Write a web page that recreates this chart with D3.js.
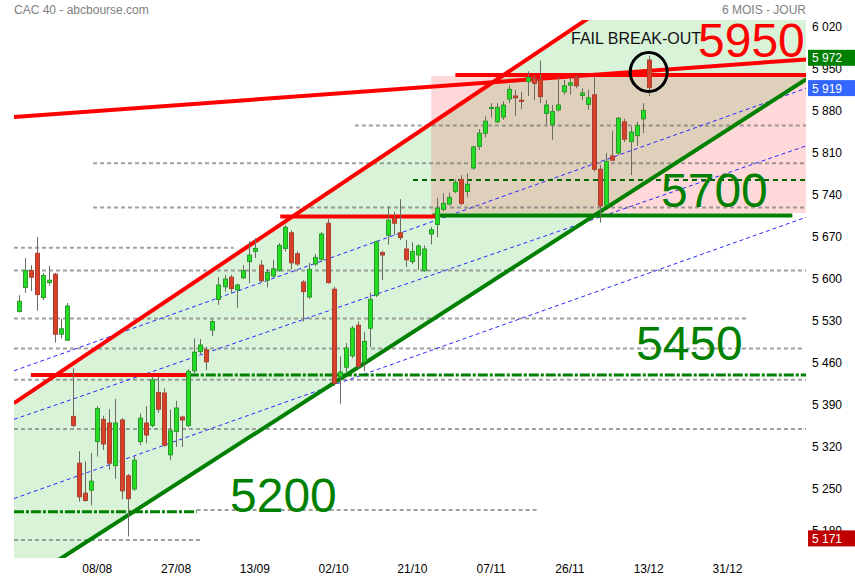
<!DOCTYPE html>
<head>
  <meta charset="utf-8">
  <title>CAC 40 - abcbourse.com</title>
  <style>
    body { margin: 0; background: #fff; }
    text { font-family: "Liberation Sans", Arial, sans-serif; }
  </style>
</head>
<body>
<script src="https://cdn.jsdelivr.net/npm/d3@7"></script>
<script>
// daily candles, 22/07 -> 13/12 (bar index = position in arrays)
var open  = [5546,5586,5614,5643,5569,5594,5608,5508,5498,5371,5293,5243,5248,5329,5366,5360,5289,5365,5272,5250,
             5329,5360,5356,5411,5410,5307,5346,5370,5356,5447,5479,5482,5515,5566,5587,5603,5582,5602,5629,5646,
             5623,5598,5605,5614,5651,5677,5642,5595,5570,5625,5633,5693,5583,5437,5453,5472,5523,5462,5518,5573,
             5644,5673,5701,5677,5650,5629,5640,5614,5675,5691,5716,5725,5746,5766,5746,5785,5821,5843,5884,5862,
             5870,5900,5905,5898,5929,5935,5933,5876,5857,5882,5912,5923,5937,5906,5891,5907,5783,5723,5805,5810,
             5862,5829,5839,5867,5965];
var high  = [5573,5635,5623,5670,5610,5622,5610,5534,5560,5451,5313,5296,5310,5388,5372,5383,5400,5368,5275,5305,
             5376,5388,5438,5437,5418,5382,5397,5372,5450,5501,5500,5487,5533,5603,5607,5607,5592,5623,5663,5668,
             5631,5616,5632,5660,5690,5681,5646,5598,5627,5642,5678,5700,5587,5471,5493,5522,5529,5512,5577,5664,
             5647,5721,5712,5733,5665,5661,5658,5656,5687,5735,5743,5744,5766,5773,5776,5822,5850,5871,5893,5893,
             5896,5923,5915,5912,5946,5940,5964,5898,5890,5937,5932,5937,5940,5918,5915,5937,5790,5810,5847,5870,
             5867,5854,5862,5893,5972];
var low   = [5544,5577,5580,5547,5565,5589,5494,5501,5497,5353,5229,5229,5223,5304,5315,5282,5267,5233,5171,5247,
             5323,5326,5353,5377,5320,5298,5320,5320,5353,5443,5475,5448,5505,5557,5579,5576,5552,5600,5593,5635,
             5595,5586,5602,5612,5646,5616,5622,5529,5567,5622,5628,5592,5422,5392,5445,5468,5450,5446,5487,5570,
             5598,5657,5673,5665,5620,5625,5615,5612,5658,5670,5713,5722,5743,5723,5737,5782,5815,5836,5869,5860,
             5865,5893,5872,5883,5905,5898,5893,5857,5832,5879,5907,5907,5918,5898,5882,5779,5694,5722,5797,5807,
             5828,5773,5822,5843,5905];
var close = [5563,5614,5603,5574,5606,5598,5508,5517,5555,5356,5237,5231,5263,5384,5325,5293,5360,5247,5234,5298,
             5368,5340,5432,5383,5323,5347,5385,5365,5446,5478,5490,5462,5529,5590,5600,5584,5590,5614,5640,5651,
             5597,5611,5617,5656,5686,5627,5625,5579,5616,5636,5675,5594,5426,5445,5485,5518,5454,5496,5566,5662,
             5640,5698,5693,5669,5632,5646,5655,5650,5682,5718,5726,5736,5761,5726,5758,5820,5843,5863,5886,5886,
             5890,5916,5902,5896,5936,5926,5904,5890,5879,5890,5922,5927,5922,5910,5902,5783,5722,5796,5798,5868,
             5833,5845,5856,5881,5919];

// x axis labels every 13 bars
var dateIdx    = [13, 26, 39, 52, 65, 78, 91, 104, 117];
var dateLabels = ["08/08","27/08","13/09","02/10","21/10","07/11","26/11","13/12","31/12"];

// right axis
var yTicks = [6020,5950,5880,5810,5740,5670,5600,5530,5460,5390,5320,5250,5180];
var lastHigh = 5972, lastClose = 5919, minLow = 5171;

// hand drawn studies: [bar1, value1, bar2, value2]
var upperChannel = [-0.75, 5393, 130, 6278];
var lowerChannel = [-0.75, 5084, 130, 5933];
var longResist   = [-0.75, 5870, 130, 5966];
var blueLines = [[-0.75, 5447, 130, 5918],
                 [-0.75, 5366, 130, 5822],
                 [-0.75, 5234, 130, 5703]];
// horizontal levels: [bar1, bar2, value]
var redLevels   = [[2.05, 28.1, 5440], [43.2, 69.1, 5704], [72.1, 130, 5940]];
var greenLevels = [[68.3, 127.7, 5706]];
var dashDotLevels = [[28.1, 130, 5440], [-0.75, 29.4, 5212]];
var darkDashLevels = [[65.1, 130, 5765]];
var grayLevels = [[55.5, 130, 5856], [12.3, 130, 5793], [12.3, 130, 5719], [-0.75, 35.5, 5652],
                  [-0.75, 130, 5614], [-0.75, 120.5, 5534], [-0.75, 129.4, 5484], [-0.75, 130, 5432],
                  [-0.75, 130, 5350], [29.4, 85.5, 5215], [-0.75, 30.3, 5165]];
var zoneBox = [68.1, 130, 5710, 5938];   // bar1, bar2, low, high

var width = 855, height = 580;
var plotL = 14, plotR = 806, plotT = 20, plotB = 558;

var x = d3.scaleLinear().domain([0, 104]).range([18.5, 648.7]);
var y = d3.scaleLinear().domain([5180, 6020]).range([531, 27]);
var fmt = d3.formatLocale({decimal: ",", thousands: " ", grouping: [3], currency: ["", ""]}).format(",d");

var svg = d3.select("body").append("svg")
  .attr("width", width)
  .attr("height", height);

svg.append("rect").attr("width", width).attr("height", height).attr("fill", "#fff");

var defs = svg.append("defs");
defs.append("clipPath").attr("id", "plotClip").append("rect")
  .attr("x", plotL).attr("y", plotT).attr("width", plotR - plotL).attr("height", plotB - plotT);
defs.append("clipPath").attr("id", "boxClip").append("rect")
  .attr("x", x(zoneBox[0])).attr("y", y(zoneBox[3]))
  .attr("width", x(zoneBox[1]) - x(zoneBox[0])).attr("height", y(zoneBox[2]) - y(zoneBox[3]));

var plot = svg.append("g").attr("clip-path", "url(#plotClip)");

// zone rectangle (pink), then channel (green), then the overlap (tan)
plot.append("rect")
  .attr("x", x(zoneBox[0])).attr("y", y(zoneBox[3]))
  .attr("width", x(zoneBox[1]) - x(zoneBox[0])).attr("height", y(zoneBox[2]) - y(zoneBox[3]))
  .attr("fill", "#ffd9d9");

var channelPts = [[upperChannel[0], upperChannel[1]], [upperChannel[2], upperChannel[3]],
                  [lowerChannel[2], lowerChannel[3]], [lowerChannel[0], lowerChannel[1]]];
var channelPath = "M" + channelPts.map(function(p) { return x(p[0]) + "," + y(p[1]); }).join("L") + "Z";
plot.append("path").attr("d", channelPath).attr("fill", "#d9f3d9");
plot.append("g").attr("clip-path", "url(#boxClip)")
  .append("path").attr("d", channelPath).attr("fill", "#ded0ba");

function hline(g, d, color, w, dash) {
  g.selectAll(null).data(d).enter().append("line")
    .attr("x1", function(e) { return x(e[0]); })
    .attr("x2", function(e) { return x(e[1]); })
    .attr("y1", function(e) { return y(e[2]); })
    .attr("y2", function(e) { return y(e[2]); })
    .attr("stroke", color).attr("stroke-width", w)
    .attr("stroke-dasharray", dash);
}
function sline(g, d, color, w, dash) {
  g.selectAll(null).data(d).enter().append("line")
    .attr("x1", function(e) { return x(e[0]); })
    .attr("y1", function(e) { return y(e[1]); })
    .attr("x2", function(e) { return x(e[2]); })
    .attr("y2", function(e) { return y(e[3]); })
    .attr("stroke", color).attr("stroke-width", w)
    .attr("stroke-dasharray", dash);
}

hline(plot, grayLevels, "rgba(120,120,120,0.7)", 2, "4,3");
sline(plot, blueLines, "#2a2aff", 1, "4,3");
hline(plot, dashDotLevels, "#008000", 3, "10,2,3,2");
hline(plot, darkDashLevels, "#006600", 2, "5,4");
hline(plot, greenLevels, "#008000", 4, null);
sline(plot, [lowerChannel], "#008000", 4, null);
sline(plot, [upperChannel, longResist], "#ff0000", 4, null);
hline(plot, redLevels, "#ff0000", 4, null);

// candles
var bars = d3.range(open.length);
var candles = plot.append("g").selectAll("g").data(bars).enter().append("g");
candles.append("line")
  .attr("x1", function(i) { return Math.round(x(i)) + 0.5; })
  .attr("x2", function(i) { return Math.round(x(i)) + 0.5; })
  .attr("y1", function(i) { return y(high[i]); })
  .attr("y2", function(i) { return y(low[i]); })
  .attr("stroke", "#6b6b60").attr("stroke-width", 1);
candles.append("rect")
  .attr("x", function(i) { return Math.round(x(i)) - 1.5; })
  .attr("width", 4)
  .attr("y", function(i) { return y(Math.max(open[i], close[i])); })
  .attr("height", function(i) { return Math.max(1, Math.abs(y(open[i]) - y(close[i]))); })
  .attr("fill", function(i) { return close[i] >= open[i] ? "#22dd22" : "#d8402a"; })
  .attr("stroke", function(i) { return close[i] >= open[i] ? "#2a9a2a" : "#a8402e"; })
  .attr("stroke-width", 1);

// annotations
svg.append("ellipse")
  .attr("cx", x(104)).attr("cy", y(5945))
  .attr("rx", 18.5).attr("ry", 19.5)
  .attr("fill", "none").attr("stroke", "#000").attr("stroke-width", 3);

svg.append("text").attr("x", 571).attr("y", 43.5)
  .style("font-size", "16px").attr("fill", "#111").text("FAIL BREAK-OUT");

var bigLabels = [["5950", 698, 57, "#ff0000"], ["5700", 661, 207, "#008000"],
                 ["5450", 636, 360, "#008000"], ["5200", 230, 512, "#008000"]];
svg.selectAll(null).data(bigLabels).enter().append("text")
  .attr("x", function(d) { return d[1]; })
  .attr("y", function(d) { return d[2]; })
  .attr("fill", function(d) { return d[3]; })
  .style("font-size", "48px")
  .text(function(d) { return d[0]; });

// title + period
svg.append("text").attr("x", 14).attr("y", 13.5)
  .style("font-size", "12px").attr("fill", "#808080").text("CAC 40 - abcbourse.com");
svg.append("text").attr("x", 806).attr("y", 13.5).attr("text-anchor", "end")
  .style("font-size", "12px").attr("fill", "#808080").text("6 MOIS - JOUR");

// right axis
svg.selectAll(null).data(yTicks).enter().append("text")
  .attr("x", 812).attr("y", function(d) { return y(d) + 4; })
  .style("font-size", "12px").attr("fill", "#000")
  .text(function(d) { return fmt(d); });

var marks = [[lastHigh, "#008000", 2], [lastClose, "#3366ff", 0.5], [minLow, "#c00000", 2]];
marks.forEach(function(m) {
  var cy = y(m[0]) + m[2];
  svg.append("rect").attr("x", 808).attr("y", cy - 8).attr("width", 47).attr("height", 16).attr("fill", m[1]);
  svg.append("text").attr("x", 812).attr("y", cy + 4.5)
    .style("font-size", "12px").attr("fill", "#fff").text(fmt(m[0]));
});

// bottom axis labels
svg.selectAll(null).data(dateIdx).enter().append("text")
  .attr("x", function(d) { return x(d); })
  .attr("y", 573)
  .attr("text-anchor", "middle")
  .style("font-size", "12px").attr("fill", "#000")
  .text(function(d, i) { return dateLabels[i]; });
</script>
</body>
